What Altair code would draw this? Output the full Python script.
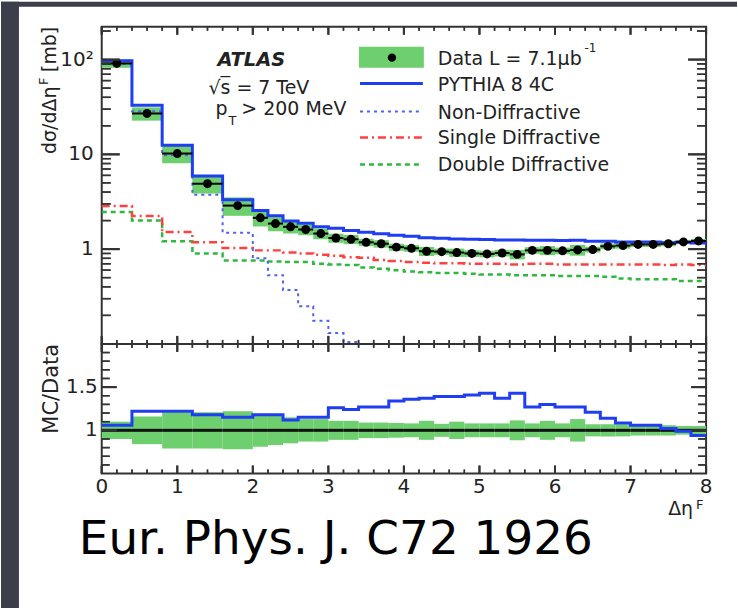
import altair as alt
import pandas as pd

# ---------------- data ----------------
edges = [0.0, 0.4, 0.8, 1.2, 1.6, 2.0, 2.2, 2.4, 2.6, 2.8, 3.0, 3.2, 3.4, 3.6,
         3.8, 4.0, 4.2, 4.4, 4.6, 4.8, 5.0, 5.2, 5.4, 5.6, 5.8, 6.0, 6.2, 6.4,
         6.6, 6.8, 7.0, 7.2, 7.4, 7.6, 7.8, 8.0]

data_vals = [91.0, 27.0, 10.2, 4.9, 2.88, 2.14, 1.86, 1.72, 1.61, 1.46, 1.31, 1.27,
             1.18, 1.14, 1.05, 1.02, 0.95, 0.94, 0.92, 0.90, 0.89, 0.91, 0.88, 0.97,
             0.97, 0.96, 0.98, 0.99, 1.07, 1.09, 1.12, 1.12, 1.14, 1.19, 1.22]

data_relerr = [0.10, 0.16, 0.21, 0.21, 0.22, 0.19, 0.17, 0.15, 0.13, 0.13, 0.11, 0.11,
               0.09, 0.09, 0.085, 0.08, 0.11, 0.075, 0.10, 0.08, 0.08, 0.08, 0.115, 0.08,
               0.11, 0.08, 0.13, 0.07, 0.07, 0.07, 0.06, 0.06, 0.06, 0.05, 0.05]

pythia_vals = [97.0, 33.0, 12.5, 5.9, 3.32, 2.55, 2.25, 1.98, 1.88, 1.72, 1.66, 1.57,
               1.51, 1.45, 1.40, 1.37, 1.32, 1.30, 1.28, 1.27, 1.26, 1.25, 1.25, 1.24,
               1.24, 1.23, 1.24, 1.21, 1.21, 1.19, 1.19, 1.19, 1.17, 1.18, 1.16]

nd_vals = [90.0, 28.5, 9.8, 3.75, 1.49, 0.80, 0.53, 0.37, 0.25, 0.175, 0.13, 0.105,
           0.082, 0.066, 0.054, 0.045, 0.038, 0.033, 0.029, 0.026, 0.024, 0.022, 0.020,
           0.019, 0.018, 0.017, 0.016, 0.016, 0.015, 0.015, 0.014, 0.014, 0.014, 0.013, 0.013]

sd_vals = [2.85, 2.24, 1.52, 1.18, 1.03, 0.97, 0.97, 0.92, 0.90, 0.87, 0.85, 0.82,
           0.81, 0.77, 0.75, 0.73, 0.72, 0.71, 0.71, 0.70, 0.70, 0.70, 0.69, 0.70,
           0.70, 0.69, 0.69, 0.69, 0.69, 0.69, 0.69, 0.69, 0.68, 0.69, 0.68]

dd_vals = [2.47, 2.00, 1.21, 0.90, 0.76, 0.76, 0.74, 0.73, 0.73, 0.70, 0.69, 0.68,
           0.64, 0.62, 0.60, 0.58, 0.57, 0.56, 0.56, 0.55, 0.54, 0.54, 0.53, 0.53,
           0.53, 0.52, 0.52, 0.52, 0.51, 0.49, 0.48, 0.48, 0.48, 0.46, 0.46]

ratio_vals = [1.06, 1.22, 1.22, 1.18, 1.15, 1.18, 1.18, 1.12, 1.15, 1.15, 1.26, 1.24,
              1.27, 1.27, 1.34, 1.36, 1.37, 1.39, 1.39, 1.41, 1.43, 1.37, 1.43, 1.27,
              1.30, 1.27, 1.27, 1.21, 1.14, 1.085, 1.06, 1.06, 1.02, 0.99, 0.94]

# tick values / labels
x_major = [0, 1, 2, 3, 4, 5, 6, 7, 8]
x_labels = ["0", "1", "2", "3", "4", "5", "6", "7", "8"]
x_minor = [0.2, 0.4, 0.6, 0.8, 1.2, 1.4, 1.6, 1.8, 2.2, 2.4, 2.6, 2.8, 3.2, 3.4,
           3.6, 3.8, 4.2, 4.4, 4.6, 4.8, 5.2, 5.4, 5.6, 5.8, 6.2, 6.4, 6.6, 6.8,
           7.2, 7.4, 7.6, 7.8]
y_major = [1, 10, 100]
y_labels = ["1", "10", "10²"]
y_minor = [0.2, 0.3, 0.4, 0.5, 0.6, 0.7, 0.8, 0.9, 2, 3, 4, 5, 6, 7, 8, 9,
           20, 30, 40, 50, 60, 70, 80, 90, 200]
r_major = [1.0, 1.5]
r_labels = ["1", "1.5"]
r_minor = [0.6, 0.7, 0.8, 0.9, 1.1, 1.2, 1.3, 1.4, 1.6, 1.7, 1.8, 1.9]

legend_labels = ["Data L = 7.1μb", "PYTHIA 8 4C", "Non-Diffractive",
                 "Single Diffractive", "Double Diffractive"]

# ---------------- styling ----------------
FONT = "DejaVu Sans"
INK = "#222222"
FRAME = "#333333"
BAND = "#6dcf6d"
BLUE = "#1f3ef2"
ND_BLUE = "#4f62f0"
RED = "#ff4040"
DD_GREEN = "#2fb83f"
DARK = "#3c3f4b"

W = 606
H_TOP = 318
H_BOT = 130

# ---------------- tables ----------------
bins = pd.DataFrame({"lo": edges[:-1], "hi": edges[1:], "data": data_vals,
                     "err": data_relerr, "ratio": ratio_vals})
bins["center"] = (bins["lo"] + bins["hi"]) / 2
bins["band_lo"] = bins["data"] * (1 - bins["err"])
bins["band_hi"] = bins["data"] * (1 + bins["err"])
bins["r_lo"] = 1 - bins["err"]
bins["r_hi"] = 1 + bins["err"]
bins["data_ratio"] = bins["data"] / bins["data"]


def steps(vals):
    return pd.DataFrame({"x": edges, "y": list(vals) + [vals[-1]]})


one = pd.DataFrame({"k": [0]})

xs = alt.Scale(domain=[0, 8], nice=False, zero=False)
ys_top = alt.Scale(type="log", domain=[0.1, 222], nice=False, clamp=True)
ys_bot = alt.Scale(domain=[0.5, 2.0], nice=False, zero=False, clamp=True)


def tick_layers(xvals_major, xvals_minor, yvals_major, yvals_minor, yscale, h,
                ymaj, ymin, xmaj=8, xmin=4):
    """Inward ROOT-style ticks on all four sides; the along-axis position of each
    tick goes through the panel's scales."""
    out = []
    for vals, size, wdt in ((xvals_major, xmaj, 2), (xvals_minor, xmin, 1.5)):
        df = pd.DataFrame({"tv": vals})
        xe = alt.X("tv:Q", scale=xs, axis=None)
        tk = alt.Chart(df).mark_tick(orient="vertical", size=size, thickness=wdt,
                                     color=FRAME, opacity=1)
        out.append(tk.encode(x=xe, y=alt.value(h - size / 2)))
        out.append(tk.encode(x=xe, y=alt.value(size / 2)))
        rl = alt.Chart(df).mark_rule(color=FRAME, strokeWidth=wdt, opacity=1)
        out.append(rl.encode(x=xe, x2=alt.X2("tv:Q"), y=alt.value(h - size), y2=alt.value(h)))
        out.append(rl.encode(x=xe, x2=alt.X2("tv:Q"), y=alt.value(0), y2=alt.value(size)))
    for vals, size, wdt in ((yvals_major, ymaj, 2), (yvals_minor, ymin, 1.5)):
        df = pd.DataFrame({"tv": vals})
        ye = alt.Y("tv:Q", scale=yscale, axis=None)
        tk = alt.Chart(df).mark_tick(orient="horizontal", size=size, thickness=wdt,
                                     color=FRAME, opacity=1)
        out.append(tk.encode(y=ye, x=alt.value(size / 2)))
        out.append(tk.encode(y=ye, x=alt.value(W - size / 2)))
        rl = alt.Chart(df).mark_rule(color=FRAME, strokeWidth=wdt, opacity=1)
        out.append(rl.encode(y=ye, y2=alt.Y2("tv:Q"), x=alt.value(0), x2=alt.value(size)))
        out.append(rl.encode(y=ye, y2=alt.Y2("tv:Q"), x=alt.value(W - size), x2=alt.value(W)))
    return out


def y_tick_labels(vals, labels, yscale, pad):
    df = pd.DataFrame({"lv": vals, "lt": labels})
    return alt.Chart(df).mark_text(
        align="right", baseline="middle", fontSize=20, font=FONT, color=INK
    ).encode(y=alt.Y("lv:Q", scale=yscale, axis=None), x=alt.value(-pad), text="lt:N")


def x_tick_labels(vals, labels, h, pad):
    df = pd.DataFrame({"lv": vals, "lt": labels})
    return alt.Chart(df).mark_text(
        align="center", baseline="top", fontSize=20, font=FONT, color=INK
    ).encode(x=alt.X("lv:Q", scale=xs, axis=None), y=alt.value(h + pad), text="lt:N")


def txt(s, x, y, size=19, align="left", angle=0, dx=0, dy=0, weight="normal",
        style="normal", font=FONT, color=INK, baseline="alphabetic"):
    return alt.Chart(one).mark_text(
        text=s, align=align, baseline=baseline, angle=angle, dx=dx, dy=dy,
        fontSize=size, font=font, fontWeight=weight, fontStyle=style, color=color
    ).encode(x=alt.value(x), y=alt.value(y))


def hrule(x1, x2, y, color, width, dash=None):
    kw = {"color": color, "strokeWidth": width}
    if dash:
        kw["strokeDash"] = dash
    return alt.Chart(one).mark_rule(**kw).encode(
        x=alt.value(x1), x2=alt.value(x2), y=alt.value(y))


def box(x1, x2, y1, y2, color):
    return alt.Chart(one).mark_rect(color=color).encode(
        x=alt.value(x1), x2=alt.value(x2), y=alt.value(y1), y2=alt.value(y2))


# ---------------- upper panel ----------------
band = alt.Chart(bins).mark_rect(color=BAND).encode(
    x=alt.X("lo:Q", scale=xs, axis=None),
    x2="hi:Q",
    y=alt.Y("band_lo:Q", scale=ys_top, axis=None),
    y2="band_hi:Q",
)


def step_line(vals, color, width, dash=None):
    kw = {"interpolate": "step-after", "color": color, "strokeWidth": width}
    if dash:
        kw["strokeDash"] = dash
    return alt.Chart(steps(vals)).mark_line(**kw).encode(
        x=alt.X("x:Q", scale=xs, axis=None),
        y=alt.Y("y:Q", scale=ys_top, axis=None),
    )


dd_line = step_line(dd_vals, DD_GREEN, 2.5, [5, 4])
sd_line = step_line(sd_vals, RED, 2.5, [8, 4, 2, 4])
nd_line = step_line(nd_vals, ND_BLUE, 2, [3, 4])
py_line = step_line(pythia_vals, BLUE, 3)

xerr = alt.Chart(bins).mark_rule(color="black", strokeWidth=2).encode(
    x=alt.X("lo:Q", scale=xs, axis=None), x2="hi:Q",
    y=alt.Y("data:Q", scale=ys_top, axis=None),
)

dots = alt.Chart(bins).mark_circle(color="black", size=80, opacity=1).encode(
    x=alt.X("center:Q", scale=xs, axis=None),
    y=alt.Y("data:Q", scale=ys_top, axis=None),
)

background = [
    box(-101, -83, -25, 583, DARK),
    box(-101, 637, -25, -20, DARK),
]

upper_text = [
    # y title  dσ/dΔη^F [mb]
    txt("[mb]", -46, 0, size=19, align="right", angle=270),
    txt("F", -46, 0, size=13, align="right", angle=270, dx=-51, dy=-8),
    txt("dσ/dΔη", -46, 0, size=19, align="right", angle=270, dx=-60),
    # ATLAS label
    txt("ATLAS", 116, 39, size=19.5, weight="bold", style="italic"),
    txt("√s = 7 TeV", 107, 67, size=19),
    hrule(119, 129, 50, INK, 1.2),
    txt("p", 114, 88, size=19),
    txt("T", 127, 99, size=13),
    txt("> 200 MeV", 140, 88, size=19),
    # legend
    box(258, 323, 20, 41, BAND),
    alt.Chart(one).mark_circle(color="black", size=70, opacity=1).encode(
        x=alt.value(291), y=alt.value(31)),
    hrule(259, 322, 57, BLUE, 3),
    hrule(259, 322, 85, ND_BLUE, 2, [3, 4]),
    hrule(259, 322, 111, RED, 2.5, [8, 4, 2, 4]),
    hrule(259, 322, 138, DD_GREEN, 2.5, [5, 4]),
    txt(legend_labels[0], 337, 38),
    txt("-1", 484, 25, size=12),
    txt(legend_labels[1], 337, 64),
    txt(legend_labels[2], 337, 92),
    txt(legend_labels[3], 337, 118),
    txt(legend_labels[4], 337, 145),
]

upper_ticks = tick_layers(x_major, x_minor, y_major, y_minor, ys_top, H_TOP,
                          ymaj=18, ymin=9)

upper = alt.layer(
    *background, band, dd_line, sd_line, nd_line, py_line, xerr, dots,
    *upper_ticks, y_tick_labels(y_major, y_labels, ys_top, 8), *upper_text
).properties(width=W, height=H_TOP)

# ---------------- lower panel ----------------
r_band = alt.Chart(bins).mark_rect(color=BAND).encode(
    x=alt.X("lo:Q", scale=xs, axis=None),
    x2="hi:Q",
    y=alt.Y("r_lo:Q", scale=ys_bot, axis=None),
    y2="r_hi:Q",
)

r_data = alt.Chart(bins).mark_rule(color="#111111", strokeWidth=3).encode(
    x=alt.X("lo:Q", scale=xs, axis=None), x2="hi:Q",
    y=alt.Y("data_ratio:Q", scale=ys_bot, axis=None),
)

r_line = alt.Chart(steps(ratio_vals)).mark_line(
    interpolate="step-after", color=BLUE, strokeWidth=3
).encode(
    x=alt.X("x:Q", scale=xs, axis=None),
    y=alt.Y("y:Q", scale=ys_bot, axis=None),
)

lower_ticks = tick_layers(x_major, x_minor, r_major, r_minor, ys_bot, H_BOT,
                          ymaj=15, ymin=8)

lower_text = [
    txt("MC/Data", -44, 0, size=21, align="right", angle=270),
    txt("Δη", 593, 172, size=19, align="right"),
    txt("F", 596, 166, size=13),
    txt("Eur. Phys. J. C72 1926", -23, 211, size=47, color="#000000"),
]

lower = alt.layer(
    r_band, r_data, r_line, *lower_ticks,
    y_tick_labels(r_major, r_labels, ys_bot, 4),
    x_tick_labels(x_major, x_labels, H_BOT, 4),
    *lower_text
).properties(width=W, height=H_BOT)

chart = alt.vconcat(upper, lower, spacing=0, bounds="flush").properties(
    padding=0, background="white"
).configure_view(stroke=FRAME, strokeWidth=2)

chart.save("out.html", embed_options={"renderer": "svg", "actions": False})
